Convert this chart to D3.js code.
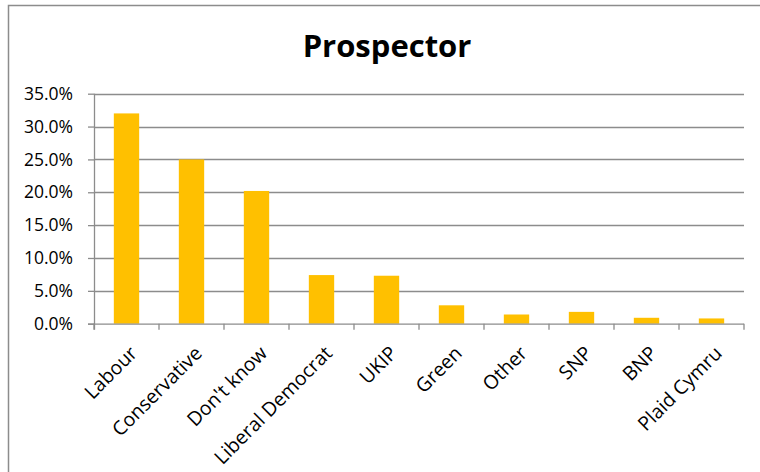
<!DOCTYPE html>
<html><head><meta charset="utf-8">
<script src="https://cdn.jsdelivr.net/npm/d3@7"></script>
<style>body{margin:0;background:#fff}svg{display:block}</style>
</head><body>
<svg id="c" width="760" height="472"></svg>
<script>
const categories = ["Labour","Conservative","Don't know","Liberal Democrat","UKIP","Green","Other","SNP","BNP","Plaid Cymru"];
const values = [32.0, 25.0, 20.2, 7.4, 7.3, 2.8, 1.4, 1.8, 0.9, 0.8];
const yTicks = [0,5,10,15,20,25,30,35];
const title = "Prospector";

const svg = d3.select("#c");
const font = "'Open Sans', 'Noto Sans', sans-serif";
svg.append("rect").attr("x",8.5).attr("y",5.5).attr("width",800).attr("height",500)
  .attr("fill","none").attr("stroke","#8c8c8c").attr("stroke-width",1.5);

const L=94, R=744, T=93.7, B=323.7;
const x = d3.scaleBand().domain(categories).range([L,R]).paddingInner(0.61).paddingOuter(0.305);
const xb = d3.scaleBand().domain(categories).range([L,R]);
const y = d3.scaleLinear().domain([0,35]).range([B,T]);

svg.append("text").attr("x",387).attr("y",57).attr("text-anchor","middle")
  .attr("font-family",font).attr("font-weight","bold").attr("font-size",31).text(title);

svg.append("g").selectAll("line").data(yTicks.filter(d=>d>0)).join("line")
  .attr("x1",L).attr("x2",R).attr("y1",d=>Math.round(y(d))+0.5).attr("y2",d=>Math.round(y(d))+0.5)
  .attr("stroke","#8c8c8c").attr("stroke-width",1.3);

svg.append("g").selectAll("rect").data(values).join("rect")
  .attr("x",(d,i)=>x(categories[i])).attr("width",x.bandwidth())
  .attr("y",d=>y(d)).attr("height",d=>B-y(d)).attr("fill","#FFC000");

const yAxis = d3.axisLeft(y).tickValues(yTicks).tickSize(6).tickFormat(d=>d.toFixed(1)+"%");
const gy = svg.append("g").attr("transform",`translate(${L},0)`).call(yAxis);
gy.selectAll("text").attr("font-family",font).attr("font-size",17.5).attr("fill","#000").attr("x",-21);
gy.selectAll("line,path").attr("stroke","#8c8c8c").attr("stroke-width",1.3);
gy.select(".domain").remove();
svg.append("line").attr("x1",L+0.5).attr("x2",L+0.5).attr("y1",T).attr("y2",B+6).attr("stroke","#8c8c8c").attr("stroke-width",1.3);

const gx = svg.append("g").attr("transform",`translate(0,${B})`);
gx.append("line").attr("x1",L-6).attr("x2",R).attr("y1",0.5).attr("y2",0.5).attr("stroke","#8c8c8c").attr("stroke-width",1.3);
gx.selectAll("line.tk").data(categories.concat(["_end"])).join("line").attr("class","tk")
  .attr("x1",(d,i)=>L+i*xb.bandwidth()).attr("x2",(d,i)=>L+i*xb.bandwidth())
  .attr("y1",0).attr("y2",6).attr("stroke","#8c8c8c").attr("stroke-width",1.3);
gx.selectAll("text").data(categories).join("text")
  .attr("transform",d=>`translate(${xb(d)+xb.bandwidth()/2+7},${26}) rotate(-45)`)
  .attr("text-anchor","end").attr("dy","0.35em")
  .attr("font-family",font).attr("font-size",19.5).attr("fill","#000").text(d=>d);
</script>
</body></html>
